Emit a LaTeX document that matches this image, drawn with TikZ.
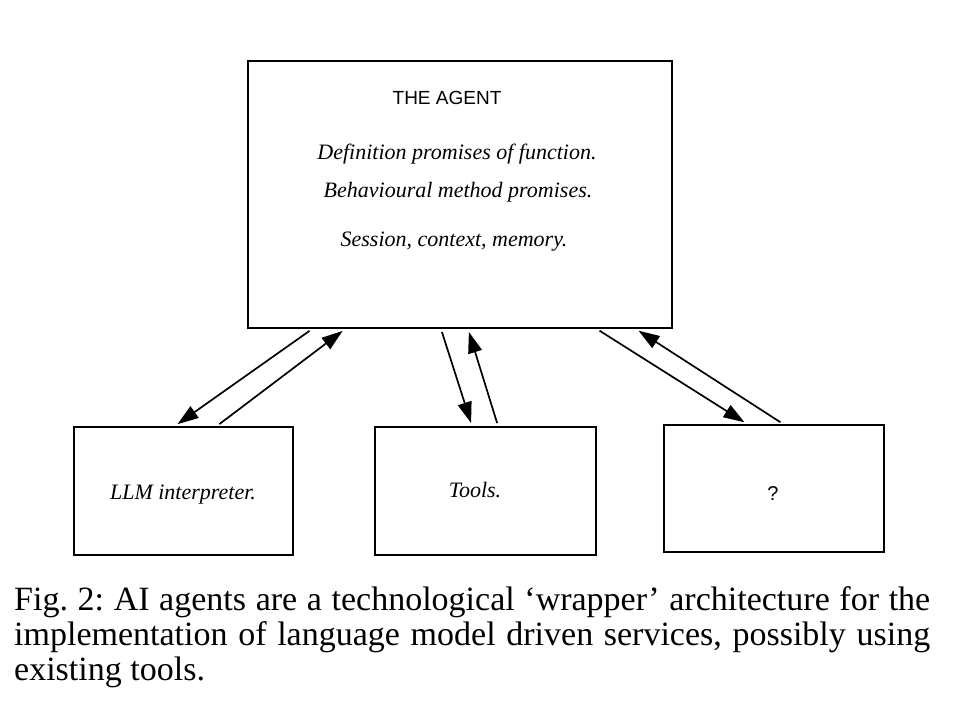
\documentclass[tikz,border=0pt]{standalone}
\usepackage{fontspec}
\setmainfont{Liberation Serif}
\newfontfamily\labelsans{Liberation Sans}
\usetikzlibrary{arrows.meta}

\begin{document}
\begin{tikzpicture}[x=1pt, y=-1pt,
    box/.style={draw, line width=2.2pt, rectangle, inner sep=0pt},
    arr/.style={line width=1.7pt, -{Triangle[length=21pt,width=14pt]}, shorten <=3pt, shorten >=3pt},
    promise/.style={anchor=base, font=\fontsize{22}{26}\selectfont\itshape}]
    \useasboundingbox (0,0) rectangle (968,714);

    % the four boxes
    \node[box, minimum width=424pt, minimum height=267pt] (agent) at (460,194.5) {};
    \node[box, minimum width=219pt, minimum height=128pt] (llm) at (183.5,491) {};
    \node[box, minimum width=221pt, minimum height=128pt] (tools) at (485.5,491) {};
    \node[box, minimum width=220pt, minimum height=127pt] (unknown) at (774,488.5) {};

    \node[anchor=base, font=\labelsans\fontsize{19}{22}\selectfont] (agentname) at (447,105) {THE AGENT};
    \node[promise] (defpromise) at (457,160) {Definition promises of function.};
    \node[promise] (behpromise) at (458,197) {Behavioural method promises.};
    \node[promise] (session) at (454,246) {Session, context, memory.};

    \node[promise] (llmtext) at (183,499) {LLM interpreter.};
    \node[promise] (toolstext) at (475,497) {Tools.};
    \node[anchor=base, font=\labelsans\fontsize{20}{24}\selectfont] (unknowntext) at (773,500) {?};

    % connectors
    \draw[arr] ([xshift=-148pt]agent.south) -- ([xshift=-8.5pt]llm.north);
    \draw[arr] ([xshift=33.5pt]llm.north) -- ([xshift=-115pt]agent.south);
    \draw[arr] ([xshift=-19pt]agent.south) -- ([xshift=-13.5pt]tools.north);
    \draw[arr] ([xshift=12.5pt]tools.north) -- ([xshift=8pt]agent.south);
    \draw[arr] ([xshift=137pt]agent.south) -- ([xshift=-27pt]unknown.north);
    \draw[arr] ([xshift=9pt]unknown.north) -- ([xshift=176pt]agent.south);

    % caption
    \node[anchor=base west, inner sep=0pt] (caption) at (14,610)
        {\parbox[t]{916pt}{\fontsize{34}{35}\selectfont\frenchspacing\hyphenpenalty=10000
        Fig.~2: AI agents are a technological ‘wrapper’ architecture for the\linebreak
        implementation of language model driven services, possibly using\linebreak
        existing tools.}};
\end{tikzpicture}
\end{document}
